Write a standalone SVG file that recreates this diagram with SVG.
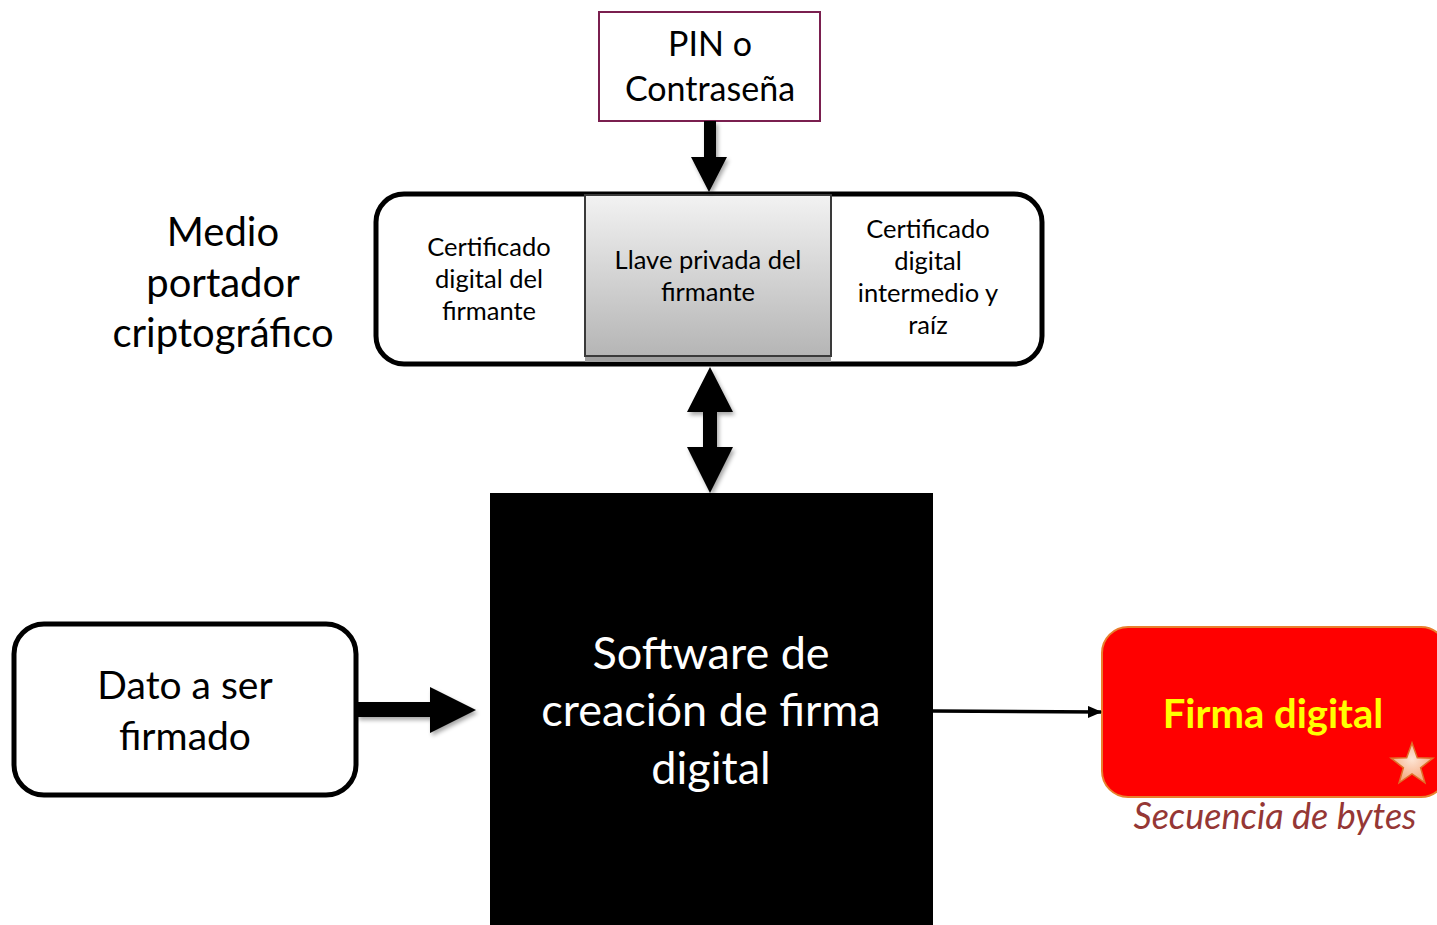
<svg xmlns="http://www.w3.org/2000/svg" width="1437" height="925" viewBox="0 0 1437 925">
<style>
text{font-family:Lato,"Open Sans","Liberation Sans",sans-serif;text-anchor:middle;fill:#000}
.box{fill:#fff;stroke:#000;stroke-width:5}
.big{font-size:39px}
.mid{font-size:25.5px}
.arr{fill:#000;filter:url(#sh)}
</style>
<defs>
<linearGradient id="gray" x1="0" y1="0" x2="0" y2="1">
<stop offset="0" stop-color="#f2f2f2"/><stop offset="1" stop-color="#b5b5b5"/>
</linearGradient>
<radialGradient id="starg" cx="0.5" cy="0.4" r="0.6">
<stop offset="0" stop-color="#fde6d6"/><stop offset="1" stop-color="#f4a57a"/>
</radialGradient>
<filter id="sh" x="-20%" y="-20%" width="150%" height="150%">
<feGaussianBlur in="SourceAlpha" stdDeviation="2"/><feOffset dx="2" dy="3"/>
<feComponentTransfer><feFuncA type="linear" slope="0.35"/></feComponentTransfer>
<feMerge><feMergeNode/><feMergeNode in="SourceGraphic"/></feMerge>
</filter>
<marker id="ah" markerWidth="14" markerHeight="12" refX="13" refY="6" orient="auto" markerUnits="userSpaceOnUse" viewBox="0 0 14 12">
<path d="M0,0 L14,6 L0,12 Z" fill="#000"/>
</marker>
</defs>

<g id="pin">
<rect x="599" y="12" width="221" height="109" fill="#fff" stroke="#7a1f4f" stroke-width="2"/>
<text x="710" y="56" style="font-size:34px">PIN o</text>
<text x="710" y="101" style="font-size:34px">Contraseña</text>
</g>

<g id="medio-label">
<text x="223" y="246" class="big" style="font-size:40px">Medio</text>
<text x="223" y="297" class="big" style="font-size:40px">portador</text>
<text x="223" y="347" class="big" style="font-size:40px">criptográfico</text>
</g>

<g id="medio">
<rect x="376" y="194" width="666" height="170" rx="28" class="box"/>
<rect x="585" y="355" width="246" height="7" fill="#a0a0a0"/>
<rect x="585" y="195" width="246" height="161" fill="url(#gray)" stroke="#3a3a3a" stroke-width="2"/>
<text class="mid" x="489" y="256">Certificado</text>
<text class="mid" x="489" y="288">digital del</text>
<text class="mid" x="489" y="320">firmante</text>
<text class="mid" x="708" y="269">Llave privada del</text>
<text class="mid" x="708" y="301">firmante</text>
<text class="mid" x="928" y="238">Certificado</text>
<text class="mid" x="928" y="270">digital</text>
<text class="mid" x="928" y="302">intermedio y</text>
<text class="mid" x="928" y="334">raíz</text>
</g>

<g id="software">
<rect x="490" y="493" width="443" height="440" fill="#000"/>
<text x="711" y="669" style="font-size:45px;fill:#fff">Software de</text>
<text x="711" y="726" style="font-size:45px;fill:#fff">creación de firma</text>
<text x="711" y="784" style="font-size:45px;fill:#fff">digital</text>
</g>

<g id="dato">
<rect x="14" y="624" width="342" height="171" rx="30" class="box"/>
<text x="185" y="699" class="big">Dato a ser</text>
<text x="185" y="750" class="big">firmado</text>
</g>

<g id="firma">
<rect x="1102" y="627" width="345" height="170" rx="26" fill="#ff0000" stroke="#e8802e" stroke-width="2"/>
<text x="1273" y="728" style="font-size:40px;font-weight:bold;fill:#ffff00">Firma digital</text>
<path d="M1412,743 L1417.3,757.7 L1432.9,758.2 L1420.6,767.8 L1424.9,782.8 L1412,774 L1399.1,782.8 L1403.4,767.8 L1391.1,758.2 L1406.7,757.7 Z" fill="url(#starg)" stroke="#e0702a" stroke-width="1.5"/>
<text x="1275" y="829" style="font-size:36px;font-style:italic;fill:#953735">Secuencia de bytes</text>
</g>

<g id="connectors">
<path class="arr" d="M704,121 L716,121 L716,157 L727,157 L709,192 L691,157 L704,157 Z"/>
<path class="arr" d="M710,367 L733,412 L717,412 L717,447 L733,447 L710,493 L687,447 L703,447 L703,412 L687,412 Z"/>
<path class="arr" d="M357,702 L430,702 L430,687 L476,710 L430,733 L430,717 L357,717 Z"/>
<line x1="933" y1="711" x2="1101" y2="712" stroke="#000" stroke-width="3.5" marker-end="url(#ah)"/>
</g>
</svg>
